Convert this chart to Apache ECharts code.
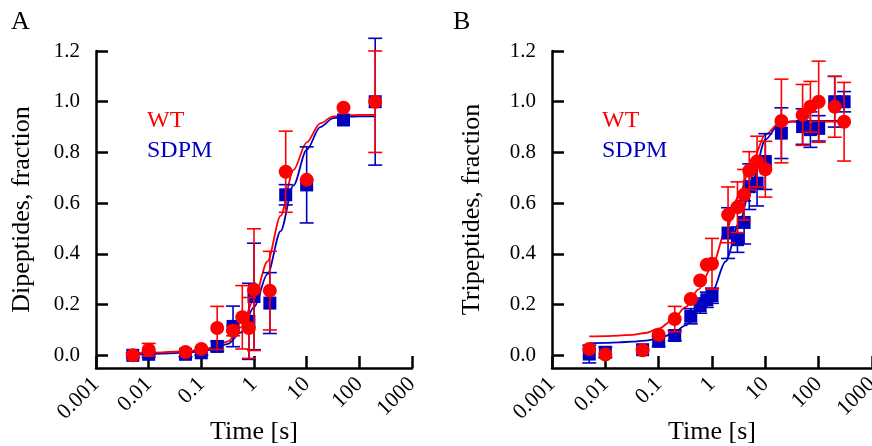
<!DOCTYPE html>
<html>
<head>
<meta charset="utf-8">
<script src="https://cdn.jsdelivr.net/npm/echarts@6/dist/echarts.min.js"></script>
<style>
html,body{margin:0;padding:0;background:#fff;}
#c{width:872px;height:446px;}
</style>
</head>
<body>
<div id="c"></div>
<script>
// ---------- Panel A : Dipeptides ----------
const wtA_t   = [0.005,0.01,0.05,0.1,0.2,0.4,0.6,0.8,1,2,4,10,50,200];
const wtA_y   = [0.0,0.022,0.013,0.025,0.108,0.097,0.15,0.108,0.259,0.255,0.724,0.692,0.976,1.0];
const wtA_err = [0,0.025,0,0,0.085,0.02,0.125,0.12,0.24,0.155,0.16,0,0,0.2];

const sdA_t   = [0.005,0.01,0.05,0.1,0.2,0.4,0.8,1,2,4,10,50,200];
const sdA_y   = [0.0,0.004,0.004,0.01,0.035,0.114,0.134,0.232,0.206,0.633,0.672,0.928,1.0];
const sdA_err = [0.01,0.01,0.01,0.01,0.02,0.08,0.15,0.21,0.12,0.04,0.15,0,0.25];

const fitA_t  = [0.005,0.01,0.018,0.032,0.056,0.1,0.18,0.32,0.56,1,1.8,3.2,5.6,10,18,32,56,100,200];
const fitA_wt = [0.009,0.010,0.012,0.014,0.017,0.022,0.032,0.055,0.11,0.22,0.37,0.55,0.73,0.84,0.915,0.942,0.947,0.948,0.948];
const fitA_sd = [0.004,0.005,0.007,0.009,0.012,0.016,0.025,0.045,0.09,0.19,0.32,0.49,0.67,0.81,0.90,0.935,0.941,0.942,0.942];

// ---------- Panel B : Tripeptides ----------
const wtB_t   = [0.005,0.01,0.05,0.1,0.2,0.4,0.6,0.8,1,2,3,4,5,7,10,20,50,70,100,200,300];
const wtB_y   = [0.025,0.003,0.02,0.081,0.143,0.222,0.295,0.357,0.361,0.554,0.584,0.633,0.728,0.764,0.734,0.924,0.948,0.98,1.0,0.98,0.921];
const wtB_err = [0,0,0,0,0.05,0,0,0,0.1,0.11,0.1,0.1,0.075,0.1,0.11,0.165,0.12,0.1,0.16,0.12,0.155];

const sdB_t   = [0.005,0.01,0.05,0.1,0.2,0.4,0.6,0.8,1,2,3,4,5,7,10,20,50,70,100,200,300];
const sdB_y   = [0.005,0.012,0.022,0.055,0.078,0.154,0.196,0.219,0.235,0.482,0.456,0.524,0.665,0.679,0.764,0.876,0.902,0.89,0.895,1.0,1.0];
const sdB_err = [0.035,0.02,0,0.02,0.02,0.03,0.03,0.03,0.03,0.1,0.05,0.085,0.09,0.09,0.11,0.1,0.07,0.07,0.05,0.1,0.04];

const fitB_t  = [0.005,0.01,0.018,0.032,0.056,0.1,0.18,0.32,0.56,1,1.8,3.2,5.6,10,18,32,56,100,300];
const fitB_wt = [0.075,0.076,0.078,0.081,0.088,0.105,0.138,0.19,0.26,0.35,0.49,0.63,0.76,0.87,0.915,0.922,0.922,0.922,0.922];
const fitB_sd = [0.048,0.049,0.051,0.054,0.058,0.066,0.084,0.118,0.175,0.25,0.37,0.52,0.68,0.85,0.912,0.922,0.924,0.924,0.924];

// ---------- Axis ticks / labels ----------
const xTicks = [0.001,0.01,0.1,1,10,100,1000];
const xTickLabels = ['0.001','0.01','0.1','1','10','100','1000'];
const yTicks = [0,0.2,0.4,0.6,0.8,1.0,1.2];
const yTickLabels = ['0.0','0.2','0.4','0.6','0.8','1.0','1.2'];

const RED = '#FF0000';
const BLUE = '#0000C0';
const FONT = "'Liberation Serif','Times New Roman',serif";

function zip2(a,b){ return a.map((v,i)=>[v,b[i]]); }
function zip3(a,b,c){ return a.map((v,i)=>[v,b[i],c[i]]); }

function errSeries(idx, data, color, z){
  return {
    type:'custom', xAxisIndex:idx, yAxisIndex:idx, z:z, clip:false,
    data:data,
    renderItem:function(params, api){
      const x = api.value(0), y = api.value(1), e = api.value(2);
      if(!e) return null;
      const top = api.coord([x, y+e]);
      const bot = api.coord([x, y-e]);
      const hw = 7;
      const st = {stroke:color, lineWidth:1.6};
      return {type:'group', children:[
        {type:'line', shape:{x1:top[0],y1:top[1],x2:bot[0],y2:bot[1]}, style:st},
        {type:'line', shape:{x1:top[0]-hw,y1:top[1],x2:top[0]+hw,y2:top[1]}, style:st},
        {type:'line', shape:{x1:bot[0]-hw,y1:bot[1],x2:bot[0]+hw,y2:bot[1]}, style:st}
      ]};
    }
  };
}

function xAxisDef(idx){
  return {
    type:'log', logBase:10, gridIndex:idx, min:0.001, max:1000,
    name:'Time [s]', nameLocation:'middle', nameGap:51, nameMoveOverlap:false,
    nameTextStyle:{fontFamily:FONT, fontSize:26, color:'#000', verticalAlign:'top'},
    axisLine:{onZero:false, lineStyle:{color:'#000', width:2.5}},
    axisTick:{inside:true, length:12, lineStyle:{color:'#000', width:2.5}, customValues:xTicks},
    axisLabel:{rotate:45, margin:13, fontFamily:FONT, fontSize:22, color:'#000',
      customValues:xTicks,
      formatter:function(v){ const i = xTicks.findIndex(t=>Math.abs(Math.log10(t)-Math.log10(v))<1e-6); return i>=0 ? xTickLabels[i] : ''; }},
    splitLine:{show:false}, minorTick:{show:false}
  };
}
function yAxisDef(idx, name, gap){
  return {
    type:'value', gridIndex:idx, min:-0.05, max:1.2,
    name:name, nameLocation:'middle', nameGap:gap, nameMoveOverlap:false,
    nameTextStyle:{fontFamily:FONT, fontSize:26, color:'#000'},
    axisLine:{onZero:false, lineStyle:{color:'#000', width:2.5}},
    axisTick:{inside:true, length:12, lineStyle:{color:'#000', width:2.5}, customValues:yTicks},
    axisLabel:{margin:16, fontFamily:FONT, fontSize:21, color:'#000', customValues:yTicks,
      formatter:function(v){ const i = yTicks.findIndex(t=>Math.abs(t-v)<1e-6); return i>=0 ? yTickLabels[i] : ''; }},
    splitLine:{show:false}
  };
}

function panelSeries(idx, fitT, fitWt, fitSd, sdT, sdY, sdE, wtT, wtY, wtE){
  return [
    {type:'line', xAxisIndex:idx, yAxisIndex:idx, data:zip2(fitT, fitSd), smooth:0.3, smoothMonotone:'x',
      showSymbol:false, symbol:'none', lineStyle:{color:BLUE, width:1.8}, z:2},
    {type:'line', xAxisIndex:idx, yAxisIndex:idx, data:zip2(fitT, fitWt), smooth:0.3, smoothMonotone:'x',
      showSymbol:false, symbol:'none', lineStyle:{color:RED, width:1.8}, z:3},
    errSeries(idx, zip3(sdT, sdY, sdE), BLUE, 4),
    {type:'scatter', xAxisIndex:idx, yAxisIndex:idx, data:zip2(sdT, sdY), symbol:'rect', symbolSize:13,
      itemStyle:{color:BLUE, opacity:1}, z:5},
    errSeries(idx, zip3(wtT, wtY, wtE), RED, 6),
    {type:'scatter', xAxisIndex:idx, yAxisIndex:idx, data:zip2(wtT, wtY), symbol:'circle', symbolSize:14,
      itemStyle:{color:RED, opacity:1}, z:7}
  ];
}

const chart = echarts.init(document.getElementById('c'), null, {renderer:'canvas'});
chart.setOption({
  animation:false,
  backgroundColor:'#fff',
  textStyle:{fontFamily:FONT},
  grid:[
    {left:96, top:51, width:316, height:317, containLabel:false, outerBoundsMode:'none'},
    {left:552, top:51, width:320, height:317, containLabel:false, outerBoundsMode:'none'}
  ],
  xAxis:[xAxisDef(0), xAxisDef(1)],
  yAxis:[yAxisDef(0,'Dipeptides, fraction',61), yAxisDef(1,'Tripeptides, fraction',67)],
  series:[].concat(
    panelSeries(0, fitA_t, fitA_wt, fitA_sd, sdA_t, sdA_y, sdA_err, wtA_t, wtA_y, wtA_err),
    panelSeries(1, fitB_t, fitB_wt, fitB_sd, sdB_t, sdB_y, sdB_err, wtB_t, wtB_y, wtB_err)
  ),
  graphic:[
    {type:'text', left:11, top:9, style:{text:'A', font:"26px "+FONT, fill:'#000'}},
    {type:'text', left:453, top:9, style:{text:'B', font:"26px "+FONT, fill:'#000'}},
    {type:'text', x:147, y:121, style:{text:'WT', font:"24px "+FONT, fill:RED, verticalAlign:'middle'}},
    {type:'text', x:147, y:151, style:{text:'SDPM', font:"24px "+FONT, fill:BLUE, verticalAlign:'middle'}},
    {type:'text', x:602, y:121, style:{text:'WT', font:"24px "+FONT, fill:RED, verticalAlign:'middle'}},
    {type:'text', x:602, y:151, style:{text:'SDPM', font:"24px "+FONT, fill:BLUE, verticalAlign:'middle'}}
  ]
});
</script>
</body>
</html>
